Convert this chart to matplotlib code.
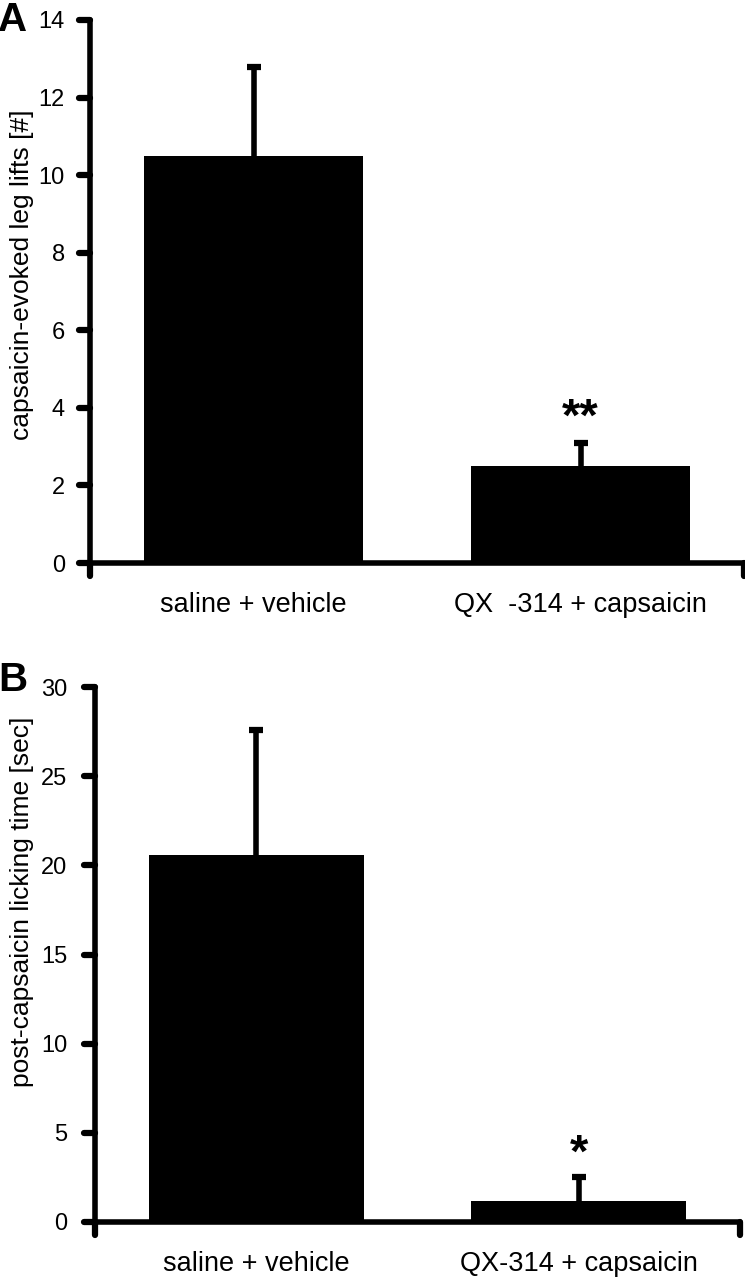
import matplotlib
matplotlib.use("Agg")
import matplotlib.pyplot as plt
from matplotlib.markers import MarkerStyle, TICKLEFT, TICKDOWN

plt.rcParams['font.family'] = ['Liberation Sans', 'DejaVu Sans']

# data
groups_a = ["saline + vehicle", "QX  -314 + capsaicin"]
leg_lifts = [10.5, 2.5]
leg_lifts_err = [2.3, 0.6]
stars_a = ["", "**"]

groups_b = ["saline + vehicle", "QX-314 + capsaicin"]
licking = [20.6, 1.2]
licking_err = [7.0, 1.3]
stars_b = ["", "*"]

yticks_a = [0, 2, 4, 6, 8, 10, 12, 14]
yticks_b = [0, 5, 10, 15, 20, 25, 30]

fig = plt.figure(figsize=(7.45, 12.8), dpi=100)
ax_a = fig.add_axes([90/745, 1-563/1280, 654/745, 543/1280])
ax_b = fig.add_axes([95/745, 1-1222/1280, 645/745, 535/1280])


def draw_panel(ax, groups, vals, errs, stars, yticks, ypad, star_off):
    x = list(range(len(groups)))
    tops = [v + e for v, e in zip(vals, errs)]
    ax.bar(x, vals, width=0.667, color='black', zorder=2)
    # upper error bars only
    ax.vlines(x, vals, tops, color='black', linewidth=4, zorder=1)
    ax.plot(x, tops, ls='none', marker='_', markersize=10, markeredgewidth=4.5,
            color='black', zorder=1)
    for xi, t, s in zip(x, tops, stars):
        if s:
            ax.text(xi, t + star_off, s, ha='center', va='baseline',
                    fontsize=34, fontweight='bold', color='black')
    ax.set_xlim(-0.5, len(groups) - 0.5)
    ax.set_ylim(yticks[0], yticks[-1])
    ax.set_yticks(yticks)
    ax.set_yticklabels([str(t) for t in yticks])
    ax.set_xticks(x)
    ax.set_xticklabels(groups)
    ax.set_xticks([-0.5, len(groups) - 0.5], minor=True)
    ax.tick_params(axis='x', which='major', length=0, pad=21, labelsize=19.5)
    ax.tick_params(axis='x', which='minor', length=9, width=4.5, direction='out')
    ax.tick_params(axis='y', length=8, width=4.5, direction='out', pad=ypad, labelsize=17)
    for sp in ['top', 'right']:
        ax.spines[sp].set_visible(False)
    for sp in ['left', 'bottom']:
        ax.spines[sp].set_linewidth(4)
        ax.spines[sp].set_capstyle('round')
    for t in ax.yaxis.get_major_ticks():
        t.tick1line.set_marker(MarkerStyle(TICKLEFT, capstyle='round'))
    for t in ax.xaxis.get_minor_ticks():
        t.tick1line.set_marker(MarkerStyle(TICKDOWN, capstyle='round'))


draw_panel(ax_a, groups_a, leg_lifts, leg_lifts_err, stars_a, yticks_a, 10, 0.3)
draw_panel(ax_b, groups_b, licking, licking_err, stars_b, yticks_b, 12, 0.6)

fig.text(22/745, 1-275/1280, "capsaicin-evoked leg lifts [#]", rotation=90,
         ha='center', va='center', fontsize=19)
fig.text(22/745, 1-902/1280, "post-capsaicin licking time [sec]", rotation=90,
         ha='center', va='center', fontsize=19)

fig.text(-0.003, 1-1/1280, "A", ha='left', va='top', fontsize=29, fontweight='bold')
fig.text(-0.003, 1-661/1280, "B", ha='left', va='top', fontsize=29, fontweight='bold')

fig.savefig("out.png", dpi=100)
